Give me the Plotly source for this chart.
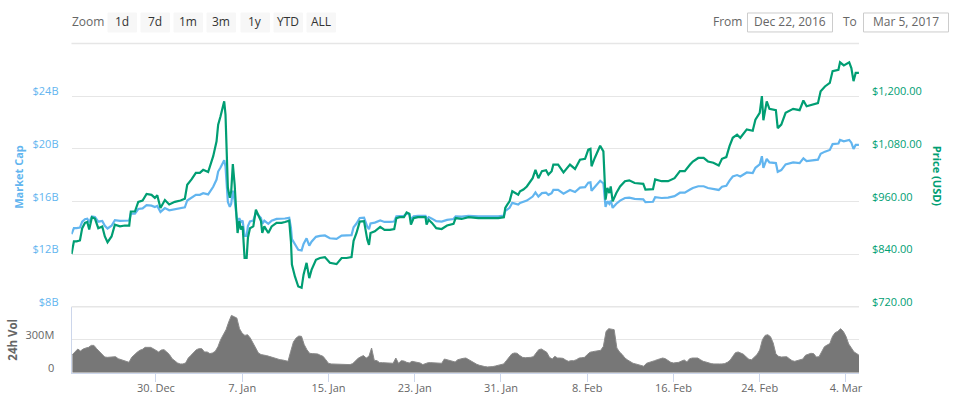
import pandas as pd
import plotly.graph_objects as go

# days since 22 Dec 2016 for the price / market cap samples
point_days = [0.17, 0.27, 0.39, 0.64, 0.95, 1.16, 1.41, 1.63, 1.81, 2.06, 2.34, 2.65, 3.02, 3.26, 3.51, 3.88, 4.19, 4.66, 5.12, 5.52,
              5.67, 6.05, 6.36, 6.76, 7.13, 7.59, 7.90, 8.12, 8.42, 8.83, 9.23, 9.75, 10.28, 10.68, 10.90, 11.30, 11.70, 12.07, 12.38, 12.84,
              13.31, 13.62, 13.77, 13.99, 14.17, 14.33, 14.45, 14.54, 14.67, 14.85, 14.98, 15.13,
              15.30, 15.48, 15.57, 15.73, 15.88, 16.04, 16.22, 16.41, 16.53, 16.72, 17.03, 17.27, 17.52, 17.74, 17.86, 18.05, 18.42, 18.73,
              19.19, 19.65, 19.96, 20.36, 20.52, 20.61, 20.89, 21.20, 21.51, 21.69, 21.97, 22.22, 22.43, 22.84, 23.21, 23.67, 24.13, 24.75, 25.22, 25.68, 26.14,
              26.33, 26.6, 26.9, 27.3, 27.6, 27.76, 27.9, 28.3, 28.8, 29.2, 29.7, 30.1, 30.3, 30.6, 31.0, 31.25, 31.5, 31.65, 31.9, 32.3,
              33.0, 33.1, 33.3, 33.6, 34.0, 34.5, 35.0, 35.6, 35.8, 36.35, 37, 37.9, 38.8, 39.75,
              40.27, 40.4, 40.6, 40.8, 41.05, 41.35, 41.6,
              41.77, 42.08, 42.4, 42.94, 43.2, 43.47, 43.8, 44.18, 44.4, 44.7, 44.86, 45.3, 45.8, 46.4, 46.87, 47.33, 47.8, 48.1, 48.3, 48.4,
              48.7, 49.0, 49.2, 49.5, 49.6, 49.7, 49.87, 50.05, 50.18, 50.36, 50.7, 51.05, 51.5, 51.9, 52.4, 53.2, 53.4, 54.1, 54.3, 54.9,
              55.5, 56.1, 56.6, 57.05,
              57.54, 57.8, 58.3, 58.8, 59.2, 59.7, 60.2, 60.5, 60.9, 61.2, 61.5, 61.9, 62.2, 62.8, 63.35, 63.6, 64, 64.2, 64.34, 64.65, 64.9,
              65.5, 65.67, 66.0, 66.4, 67.1, 67.7, 68.05, 68.35, 69.4, 69.65, 70.05, 70.5, 70.76, 71.3, 71.45, 71.8, 72.3, 72.5, 72.7, 72.9, 73.2]

price_usd = [840, 850, 869, 869, 871, 899, 911, 913, 896, 924, 921, 899, 903, 880, 867, 880, 907, 903, 905, 905,
             937, 937, 959, 962, 977, 975, 968, 974, 945, 963, 953, 959, 962, 966, 998, 1010, 1025, 1025, 1032, 1027,
             1063, 1097, 1135, 1154, 1173, 1188, 1158, 1105, 991, 968, 983, 1045,
             998, 922, 888, 915, 896, 903, 831, 831, 877, 899, 903, 941, 926, 915, 888, 903, 888, 903,
             911, 911, 913, 916, 869, 816, 789, 766, 763, 793, 820, 785, 804, 827, 831, 833, 820, 817, 831, 831, 833,
             870, 888, 914, 915, 873, 861, 888, 892, 902, 895, 895, 897, 922, 924, 924, 935, 932, 907, 922, 924,
             924, 907, 918, 911, 899, 897, 905, 909, 922, 920, 924, 922, 922, 922,
             924, 945, 953, 960, 983, 979, 975,
             983, 987, 994, 1013, 1032, 1013, 1029, 1031, 1021, 1029, 1044, 1044, 1026, 1044, 1034, 1055, 1057, 1078, 1080, 1040,
             1059, 1078, 1087, 1074, 1025, 964, 991, 979, 994, 960, 979, 994, 1006, 1008, 1002, 1000, 987, 988, 1010, 1006,
             1006, 1013, 1029, 1029,
             1044, 1051, 1059, 1059, 1051, 1048, 1042, 1057, 1061, 1086, 1105, 1112, 1105, 1124, 1121, 1146, 1162, 1200, 1145, 1188, 1171,
             1168, 1127, 1135, 1162, 1171, 1168, 1190, 1177, 1184, 1211, 1222, 1230, 1257, 1260, 1277, 1270, 1277, 1264, 1234, 1253, 1253]

market_cap_bn = [13.51, 13.67, 13.97, 13.97, 14.01, 14.46, 14.65, 14.68, 14.41, 14.86, 14.81, 14.46, 14.52, 14.15, 13.94, 14.15, 14.58, 14.52, 14.55, 14.55,
                 15.07, 15.07, 15.42, 15.47, 15.71, 15.68, 15.57, 15.66, 15.20, 15.49, 15.32, 15.42, 15.49, 15.55, 16.07, 16.26, 16.50, 16.50, 16.62, 16.53,
                 17.11, 17.66, 18.27, 18.58, 18.89, 19.13, 18.64, 17.79, 15.96, 15.58, 15.83, 16.82,
                 16.07, 14.84, 14.30, 14.73, 14.43, 14.54, 13.38, 13.38, 14.12, 14.47, 14.54, 15.15, 14.91, 14.73, 14.30, 14.54, 14.30, 14.54,
                 14.67, 14.67, 14.70, 14.75, 13.99, 13.14, 12.70, 12.33, 12.28, 12.77, 13.20, 12.64, 12.94, 13.31, 13.38, 13.41, 13.20, 13.15, 13.40, 13.40, 13.44,
                 14.03, 14.32, 14.74, 14.76, 14.08, 13.89, 14.32, 14.39, 14.55, 14.44, 14.44, 14.47, 14.87, 14.90, 14.90, 15.08, 15.03, 14.63, 14.87, 14.90,
                 14.90, 14.63, 14.81, 14.69, 14.50, 14.47, 14.60, 14.66, 14.87, 14.84, 14.90, 14.87, 14.87, 14.87,
                 14.93, 15.27, 15.40, 15.51, 15.89, 15.82, 15.76,
                 15.89, 15.95, 16.06, 16.37, 16.68, 16.37, 16.63, 16.66, 16.50, 16.63, 16.87, 16.87, 16.58, 16.87, 16.71, 17.05, 17.08, 17.42, 17.45, 16.81,
                 17.11, 17.42, 17.57, 17.36, 16.56, 15.58, 16.01, 15.82, 16.06, 15.51, 15.82, 16.06, 16.26, 16.29, 16.19, 16.16, 15.95, 15.97, 16.32, 16.26,
                 16.29, 16.40, 16.66, 16.66,
                 16.90, 17.02, 17.15, 17.15, 17.02, 16.97, 16.87, 17.11, 17.18, 17.58, 17.89, 18.00, 17.89, 18.20, 18.15, 18.55, 18.81, 19.43, 18.54, 19.23, 18.96,
                 18.91, 18.25, 18.38, 18.81, 18.96, 18.91, 19.27, 19.06, 19.17, 19.61, 19.78, 19.91, 20.35, 20.40, 20.67, 20.56, 20.67, 20.46, 19.98, 20.29, 20.29]

# 24h volume in millions, one reading every 6 hours from 22 Dec 06:00
volume_m = [164, 194, 215, 197, 215, 224, 230, 248, 248, 218, 194, 167, 142, 139, 139, 142, 145, 127, 118, 109,
            100, 94, 139, 167, 185, 203, 212, 230, 230, 230, 218, 203, 188, 206, 209, 188, 164, 127, 103, 88,
            79, 79, 88, 133, 158, 185, 209, 218, 218, 188, 188, 173, 179, 194, 236, 300, 345, 391, 461, 521,
            509, 497, 400, 358, 339, 345, 315, 270, 224, 179, 164, 161, 155, 148, 139, 130, 124, 118, 115, 112,
            103, 194, 279, 315, 333, 330, 255, 209, 176, 173, 170, 170, 158, 148, 118, 85, 79, 79, 79, 79,
            73, 73, 73, 73, 82, 109, 130, 145, 155, 133, 148, 224, 112, 109, 91, 91, 91, 88, 85, 85,
            133, 85, 109, 106, 94, 88, 103, 100, 97, 88, 73, 82, 91, 91, 91, 91, 88, 85, 124, 118,
            115, 106, 97, 118, 127, 130, 133, 118, 103, 88, 76, 67, 58, 55, 52, 52, 55, 61, 67, 73,
            79, 109, 142, 170, 179, 176, 155, 139, 136, 136, 139, 145, 173, 209, 215, 203, 185, 139, 124, 148,
            133, 133, 130, 115, 103, 109, 109, 118, 133, 136, 139, 164, 185, 191, 194, 194, 203, 239,
            376, 400, 397, 391, 224, 188, 164, 133, 115, 97, 85, 79, 70, 64, 58, 85, 91, 97, 109, 118,
            127, 133, 127, 109, 94, 88, 88, 94, 106, 115, 97, 127, 133, 133, 133, 118, 103, 97, 88, 82,
            79, 76, 79, 79, 82, 94, 112, 148, 182, 188, 179, 167, 142, 121, 118, 145, 164, 206, 300, 339,
            345, 327, 270, 170, 148, 142, 142, 145, 127, 109, 103, 109, 115, 124, 158, 170, 176, 173, 142, 145,
            194, 236, 251, 264, 330, 364, 376, 400, 376, 330, 261, 224, 188, 173, 155]

cap_ticks = [8, 12, 16, 20, 24]
cap_labels = ["$8B", "$12B", "$16B", "$20B", "$24B"]
price_ticks = [720, 840, 960, 1080, 1200]
price_labels = ["$720.00", "$840.00", "$960.00", "$1,080.00", "$1,200.00"]
vol_ticks = [0, 300]
vol_labels = ["0", "300M"]
date_ticks = ["2016-12-30", "2017-01-07", "2017-01-15", "2017-01-23", "2017-01-31",
              "2017-02-08", "2017-02-16", "2017-02-24", "2017-03-04"]
date_labels = ["30. Dec", "7. Jan", "15. Jan", "23. Jan", "31. Jan", "8. Feb", "16. Feb", "24. Feb", "4. Mar"]
zoom_buttons = ["1d", "7d", "1m", "3m", "1y", "YTD", "ALL"]
from_date = "Dec 22, 2016"
to_date = "Mar 5, 2017"

W, H = 958, 408
BLUE = "#62b5ef"
GREEN = "#009e73"
GRID = "#e6e6e6"
FONT = "Open Sans"


# positions were measured on the reference; the photographed page comes out a touch smaller, hence 954 / 406.4
def px_x(x):
    return x / 954


def px_y(y):
    return 1 - y / 406.4


times = pd.Timestamp("2016-12-22") + pd.to_timedelta(point_days, unit="D")
vol_times = pd.date_range("2016-12-22 06:00", periods=len(volume_m), freq="6h")

fig = go.Figure()
fig.add_trace(go.Scatter(x=times, y=market_cap_bn, mode="lines", yaxis="y", line=dict(color=BLUE, width=2.2)))
fig.add_trace(go.Scatter(x=times, y=price_usd, mode="lines", yaxis="y2", line=dict(color=GREEN, width=2.2)))
# the columns are about a pixel wide in the original, so draw them as a filled silhouette
fig.add_trace(go.Scatter(x=vol_times, y=volume_m, mode="lines", yaxis="y3", fill="tozeroy", fillcolor="#777777",
                         line=dict(color="#8a8a8a", width=1)))

fig.update_layout(
    width=W, height=H, margin=dict(l=0, r=0, t=0, b=0),
    paper_bgcolor="white", plot_bgcolor="white", showlegend=False,
    font=dict(family=FONT, size=11, color="#666666"),
    xaxis=dict(domain=[px_x(71.5), px_x(859)], anchor="y3", range=["2016-12-22 04:00", "2017-03-05 05:00"],
               tickmode="array", tickvals=date_ticks, ticktext=date_labels, ticks="outside", ticklen=8,
               tickcolor="#ccd6eb", showline=True, linecolor="#ccd6eb", showgrid=False, zeroline=False,
               ticklabelstandoff=-3),
    yaxis=dict(domain=[px_y(307), px_y(43.5)], range=[8, 28], tickmode="array", tickvals=cap_ticks, ticktext=cap_labels,
               tickfont=dict(color=BLUE), ticklabelposition="outside top", gridcolor=GRID, zeroline=False,
               ticklabelstandoff=12, ticklabelshift=3),
    yaxis2=dict(domain=[px_y(307), px_y(43.5)], overlaying="y", side="right", range=[720, 1320], tickmode="array",
                tickvals=price_ticks, ticktext=price_labels, tickfont=dict(color=GREEN), ticklabelposition="outside top",
                showgrid=False, zeroline=False, ticklabelstandoff=12, ticklabelshift=3),
    yaxis3=dict(domain=[px_y(373), px_y(307)], range=[0, 600], tickmode="array", tickvals=vol_ticks, ticktext=vol_labels,
                ticklabelposition="outside top", gridcolor=GRID, zeroline=False, showline=True, linecolor="#ccd6eb",
                ticklabelstandoff=14, ticklabelshift=3),
)


# top edge of the price panel and the divider above the volume panel
for y in [43.5, 307]:
    fig.add_shape(type="line", xref="paper", yref="paper", x0=px_x(71.5), x1=px_x(859), y0=px_y(y), y1=px_y(y),
                  line=dict(color=GRID, width=1.5))


def label(x, y, text, size=12, color="#666666", angle=0, bold=False, anchor="center"):
    fig.add_annotation(x=px_x(x), y=px_y(y), xref="paper", yref="paper", text="<b>%s</b>" % text if bold else text,
                       showarrow=False, textangle=angle, xanchor=anchor, yanchor="middle",
                       font=dict(family=FONT, size=size, color=color))


def box(x0, x1, fill, line):
    fig.add_shape(type="rect", xref="paper", yref="paper", x0=px_x(x0), x1=px_x(x1), y0=px_y(32), y1=px_y(13),
                  fillcolor=fill, line=dict(color=line, width=1))


# axis titles
label(19, 177, "Market Cap", size=11, color=BLUE, angle=-90, bold=True)
label(937, 176, "Price (USD)", size=11, color=GREEN, angle=90, bold=True)
label(13, 340, "24h Vol", size=11.5, angle=-90, bold=True)

# range selector row
label(88, 22, "Zoom")
btn_left = [108, 141, 174, 207, 241, 274, 307]
for left, name in zip(btn_left, zoom_buttons):
    box(left, left + 28.5, "#f7f7f7", "#f7f7f7")
    label(left + 14.25, 21.5, name, color="#333333")
label(727, 21.5, "From")
box(747.5, 832.5, "white", "#cccccc")
label(790, 21.5, from_date)
label(849.5, 21.5, "To")
box(863.5, 948.5, "white", "#cccccc")
label(906, 21.5, to_date)

# the page's default body margin would push the fixed-size figure out of the window
page_fix = """
for (const el of [document.documentElement, document.body]) {
  el.style.margin = '0';
  el.style.padding = '0';
  el.style.width = '958px';
  el.style.height = '408px';
  el.style.overflow = 'hidden';
}
"""
fig.write_html("out.html", config={"displayModeBar": False}, post_script=page_fix)
